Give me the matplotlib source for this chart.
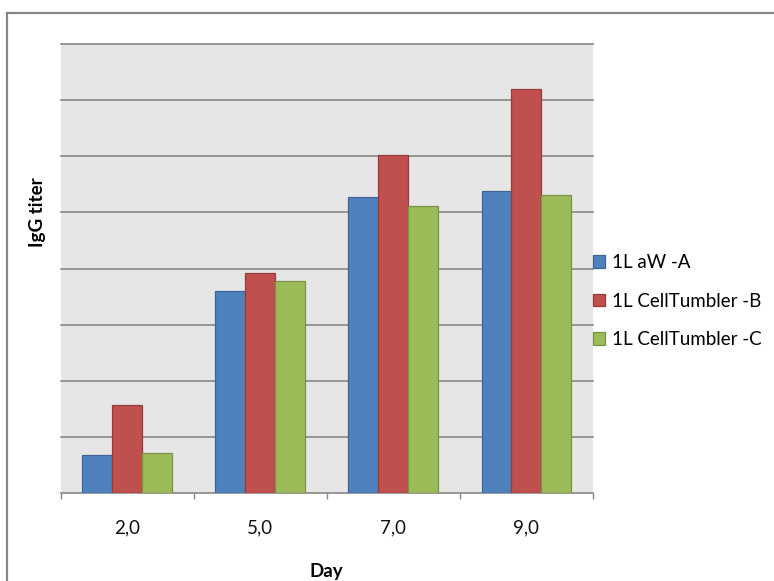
import matplotlib
matplotlib.use("Agg")
from matplotlib import pyplot as plt
from matplotlib.lines import Line2D
import numpy as np

# values, in gridline units
days = ["2,0", "5,0", "7,0", "9,0"]
series_names = ["1L aW -A", "1L CellTumbler -B", "1L CellTumbler -C"]
aw_a = [0.68, 3.60, 5.28, 5.38]
tumbler_b = [1.57, 3.92, 6.03, 7.20]
tumbler_c = [0.71, 3.77, 5.11, 5.31]

colors = ["#4f81bd", "#c0504d", "#9bbb59"]
edges = ["#3d6696", "#963c3a", "#7a9446"]

plt.rcParams['font.family'] = ['Lato', 'DejaVu Sans']

fig = plt.figure(figsize=(7.74, 5.81), dpi=100)
ax = fig.add_axes([60.7 / 774, 88 / 581, 532.3 / 774, 449 / 581])
ax.set_facecolor("#e6e6e6")

x = np.arange(len(days))
w = 0.225
for i, (vals, name) in enumerate(zip([aw_a, tumbler_b, tumbler_c], series_names)):
    ax.bar(x + (i - 1) * w, vals, width=w, color=colors[i], edgecolor=edges[i],
           linewidth=0.9, label=name, zorder=3)

ax.set_xlim(-0.5, len(days) - 0.5)
ax.set_ylim(0, 8)
ax.set_yticks(np.arange(1, 9))
ax.yaxis.grid(True, color="#8f8f8f", linewidth=1.3, zorder=1)
for gl in ax.get_ygridlines():
    gl.set_clip_on(False)
ax.tick_params(axis="y", left=False, labelleft=False)

# category boundary ticks, labels in between
ax.set_xticks(np.arange(-0.5, len(days), 1.0))
ax.set_xticklabels([])
ax.set_xticks(x, minor=True)
ax.set_xticklabels(days, minor=True, fontsize=13.5, color="#111111")
ax.tick_params(axis="x", which="major", direction="out", length=4.5, width=1, color="#868686")
ax.tick_params(axis="x", which="minor", length=0, pad=19)

for s in ["left", "top", "right"]:
    ax.spines[s].set_visible(False)
ax.spines["bottom"].set_color("#868686")
ax.spines["bottom"].set_linewidth(1.2)
ax.set_axisbelow(True)

fig.text(326 / 774, 1 - 571 / 581, "Day", ha="center", va="center",
         fontsize=13.5, fontweight="bold")
fig.text(37.5 / 774, 1 - 212 / 581, "IgG titer", ha="center", va="center",
         rotation=90, fontsize=13.5, fontweight="bold")

ax.legend(loc="center left", bbox_to_anchor=(1.0, 0.4276), frameon=False,
          fontsize=13.5, handlelength=0.66, handleheight=0.66, handletextpad=0.36,
          labelspacing=1.15, borderpad=0, borderaxespad=0)

# outer chart frame (top and left edges visible)
fig.add_artist(Line2D([6.5 / 774, 1.0], [1 - 12.7 / 581] * 2, transform=fig.transFigure,
                      color="#868686", linewidth=1.6))
fig.add_artist(Line2D([6.5 / 774] * 2, [0.0, 1 - 12.7 / 581], transform=fig.transFigure,
                      color="#868686", linewidth=1.6))

fig.savefig("out.png", dpi=100)
